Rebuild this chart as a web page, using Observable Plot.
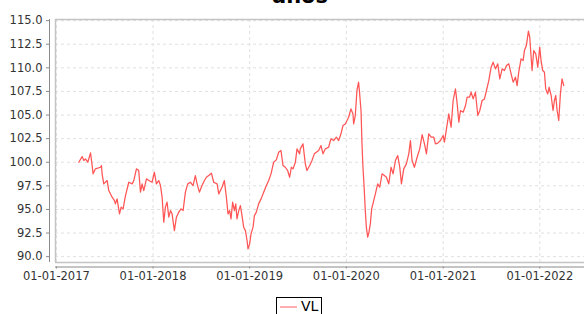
<!DOCTYPE html>
<html>
<head>
<meta charset="utf-8">
<script src="https://cdn.jsdelivr.net/npm/d3@7"></script>
<script src="https://cdn.jsdelivr.net/npm/@observablehq/plot@0.6"></script>
<style>
  html, body { margin: 0; padding: 0; background: #fff; }
  #wrap { position: relative; width: 584px; height: 314px; overflow: hidden; font-family: "DejaVu Sans", sans-serif; }
  #title { position: absolute; left: 300px; top: -14px; transform: translateX(-50%); font-weight: bold; font-size: 21px; line-height: 21px; color: #000; white-space: nowrap; }
  #chart { position: absolute; left: 0; top: 0; }
  #legend { position: absolute; left: 276px; top: 297px; width: 46px; height: 30px; box-sizing: border-box; border: 1px solid #000; background: #fff; }
  #legend svg { position: absolute; left: 3px; top: 8px; }
  #legend span { position: absolute; left: 24px; top: 0px; font-size: 14px; line-height: 17px; color: #000; }
</style>
</head>
<body>
<div id="wrap">
  <div id="title">años</div>
  <div id="chart"></div>
  <div id="legend"><svg width="18" height="2"><line x1="0" x2="17" y1="1" y2="1" stroke="#ff7a7a" stroke-width="1.2"/></svg><span>VL</span></div>
</div>
<script>
// Dates as decimal years
const years = [
2017.232,2017.266,2017.284,2017.301,2017.325,2017.353,2017.370,2017.380,2017.404,2017.456,
2017.466,2017.473,2017.490,2017.525,2017.542,2017.577,2017.601,2017.611,2017.628,2017.653,
2017.670,2017.690,2017.715,2017.749,2017.784,2017.801,2017.828,2017.852,2017.870,2017.887,
2017.904,2017.932,2017.956,2017.990,2018.014,2018.035,2018.059,2018.077,2018.094,2018.111,
2018.128,2018.145,2018.163,2018.180,2018.197,2018.221,2018.242,2018.266,2018.290,2018.311,
2018.335,2018.359,2018.387,2018.414,2018.438,2018.456,2018.480,2018.507,2018.532,2018.552,
2018.576,2018.604,2018.628,2018.663,2018.680,2018.714,2018.738,2018.759,2018.776,2018.793,
2018.807,2018.824,2018.842,2018.856,2018.869,2018.887,2018.904,2018.921,2018.938,2018.956,
2018.973,2018.983,2019.000,2019.014,2019.035,2019.049,2019.069,2019.093,2019.118,2019.145,
2019.173,2019.197,2019.221,2019.248,2019.276,2019.300,2019.324,2019.345,2019.369,2019.393,
2019.414,2019.431,2019.449,2019.473,2019.490,2019.517,2019.524,2019.552,2019.576,2019.593,
2019.621,2019.645,2019.669,2019.714,2019.738,2019.759,2019.783,2019.817,2019.841,2019.869,
2019.897,2019.921,2019.945,2019.966,2019.990,2020.024,2020.048,2020.069,2020.076,2020.093,
2020.110,2020.127,2020.138,2020.152,2020.162,2020.172,2020.186,2020.196,2020.207,2020.221,
2020.234,2020.248,2020.262,2020.283,2020.300,2020.324,2020.345,2020.369,2020.393,2020.414,
2020.438,2020.462,2020.483,2020.507,2020.531,2020.552,2020.569,2020.593,2020.620,2020.645,
2020.662,2020.679,2020.703,2020.731,2020.758,2020.783,2020.807,2020.827,2020.851,2020.876,
2020.903,2020.920,2020.944,2020.972,2021.000,2021.013,2021.034,2021.058,2021.082,2021.103,
2021.127,2021.145,2021.162,2021.179,2021.207,2021.231,2021.248,2021.272,2021.289,2021.310,
2021.334,2021.358,2021.379,2021.403,2021.427,2021.448,2021.472,2021.496,2021.517,2021.541,
2021.565,2021.586,2021.610,2021.634,2021.655,2021.679,2021.703,2021.724,2021.748,2021.765,
2021.782,2021.806,2021.827,2021.841,2021.861,2021.882,2021.896,2021.910,2021.920,2021.937,
2021.958,2021.979,2021.999,2022.013,2022.030,2022.048,2022.061,2022.082,2022.096,2022.117,
2022.137,2022.151,2022.165,2022.179,2022.196,2022.213,2022.230,2022.248
];
const vl = [
100.00,100.60,100.18,100.36,100.00,100.99,99.65,98.77,99.30,99.47,
99.65,98.77,97.71,98.06,97.00,96.30,95.94,95.59,96.12,94.53,
95.24,95.06,96.47,97.88,97.71,98.06,99.30,99.12,96.83,97.71,
97.00,98.24,98.06,97.88,98.94,97.71,98.06,97.53,96.30,93.65,
95.24,95.77,94.18,94.88,94.53,92.76,94.18,94.71,95.06,94.88,
96.83,97.71,97.88,97.53,98.59,97.71,96.83,97.53,98.06,98.41,
98.59,98.84,97.88,97.71,96.65,97.35,98.06,96.30,94.53,94.88,
94.00,95.77,94.88,95.59,94.00,94.88,95.41,94.35,93.12,92.76,
91.71,90.82,91.35,92.41,93.12,94.35,94.71,95.59,96.12,96.83,
97.53,98.06,98.77,100.00,100.25,101.06,101.24,99.65,99.47,99.12,
98.41,99.47,99.30,100.00,101.42,100.89,101.42,101.95,99.83,99.12,
99.65,100.18,100.89,101.24,101.77,100.89,101.42,101.59,102.48,102.30,
102.65,102.30,103.01,103.89,104.06,104.77,105.65,105.12,104.06,104.95,
107.60,108.48,107.24,105.48,101.95,99.47,97.00,94.88,93.12,92.06,
92.59,93.47,95.06,95.94,96.65,97.71,97.35,98.77,98.59,98.41,
97.71,99.47,98.77,100.18,100.71,99.47,97.71,99.30,99.83,100.89,
102.30,100.18,99.47,100.53,101.42,102.93,101.95,100.89,103.01,102.65,
102.65,101.95,102.02,102.30,102.83,102.12,103.53,105.12,103.71,106.54,
107.77,106.18,104.24,105.48,105.30,106.01,106.89,106.89,107.42,106.71,
107.42,104.95,105.48,106.54,106.71,107.60,108.65,110.07,110.60,109.89,
110.42,108.83,109.89,109.71,110.24,110.42,109.36,108.48,109.01,108.12,
109.54,110.95,110.77,111.83,112.36,113.88,113.24,111.13,109.71,111.83,
111.48,110.07,112.19,110.77,109.71,109.54,107.77,107.24,107.95,107.07,
105.48,106.54,107.07,105.48,104.42,107.24,108.83,108.12
];
const seriesName = "VL";
const yTicks = [90, 92.5, 95, 97.5, 100, 102.5, 105, 107.5, 110, 112.5, 115];
const xTickYears = [2017, 2018, 2019, 2020, 2021, 2022];

function decToDate(y) {
  const Y = Math.floor(y + 1e-9);
  const s = Date.UTC(Y, 0, 1), e = Date.UTC(Y + 1, 0, 1);
  return new Date(s + (y - Y) * (e - s));
}
const data = years.map((y, i) => ({date: decToDate(y), vl: vl[i]}));
const xTicks = xTickYears.map(y => new Date(Date.UTC(y, 0, 1)));
const xDomain = [new Date(Date.UTC(2016, 11, 28, 14)), new Date(Date.UTC(2022, 5, 18, 19))];
const yDomain = [89.38, 115.12];

const frameColor = "#c4c4c4";
const axisColor = "#8a8a8a";
const gridColor = "#e0e0e0";

const chart = Plot.plot({
  width: 584,
  height: 290,
  marginLeft: 55,
  marginRight: 0,
  marginTop: 19,
  marginBottom: 28,
  style: {fontFamily: "'DejaVu Sans', sans-serif", fontSize: "11.5px", color: "#333", background: "transparent", overflow: "visible"},
  x: {type: "utc", domain: xDomain},
  y: {domain: yDomain},
  marks: [
    Plot.gridY({ticks: yTicks, stroke: gridColor, strokeOpacity: 1, strokeDasharray: "3,3"}),
    Plot.gridX({ticks: xTicks, stroke: gridColor, strokeOpacity: 1, strokeDasharray: "3,3"}),
    Plot.ruleY([yDomain[1]], {stroke: frameColor, strokeWidth: 1.5}),
    Plot.ruleY([yDomain[0]], {stroke: frameColor, strokeWidth: 1.5}),
    Plot.ruleX([xDomain[0]], {stroke: frameColor, strokeWidth: 1.5}),
    Plot.line(data, {x: "date", y: "vl", stroke: "#ff5555", strokeWidth: 1.25}),
    Plot.axisY({ticks: yTicks, tickSize: 3, tickPadding: 4, dx: -6, tickFormat: d3.format(".1f"), stroke: axisColor, fill: "#333", label: null}),
    Plot.ruleX([xDomain[0]], {dx: -6, stroke: axisColor}),
    Plot.axisX({ticks: xTicks, tickSize: 2, tickPadding: 3, dy: 4.5, tickFormat: d3.utcFormat("%d-%m-%Y"), stroke: axisColor, fill: "#333", label: null}),
    Plot.ruleY([yDomain[0]], {dy: 4.5, stroke: axisColor})
  ]
});
document.getElementById("chart").appendChild(chart);
document.querySelector("#legend span").textContent = seriesName;
</script>
</body>
</html>
